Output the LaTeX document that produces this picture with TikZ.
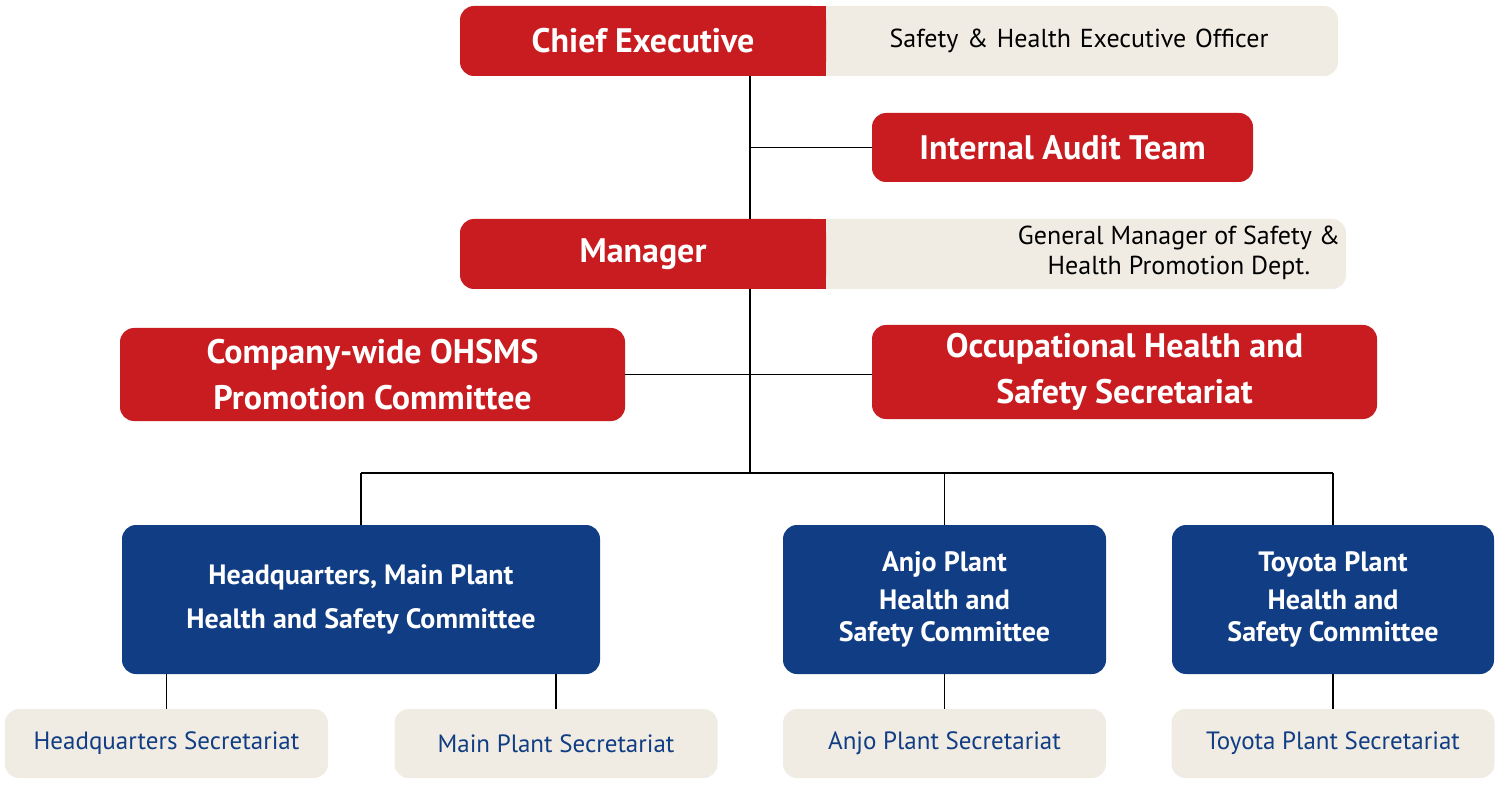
\documentclass[tikz,border=0pt]{standalone}
\usepackage{fontspec}
\setmainfont{PT Sans}
\definecolor{boxRed}{RGB}{200,28,32}
\definecolor{boxBlue}{RGB}{16,61,131}
\definecolor{boxBeige}{RGB}{240,236,227}
\tikzset{
  redbox/.style={fill=boxRed,text=white,rounded corners=14pt,inner sep=0pt,align=center,font=\fontsize{34}{38}\selectfont\bfseries},
  bluebox/.style={fill=boxBlue,text=white,rounded corners=14pt,inner sep=0pt,align=center,font=\fontsize{28}{44}\selectfont\bfseries},
  rolebox/.style={fill=boxBeige,rounded corners=14pt,inner sep=0pt,align=center,font=\fontsize{26}{30}\selectfont},
  secbox/.style={fill=boxBeige,text=boxBlue,rounded corners=14pt,inner sep=0pt,align=center,minimum width=323pt,minimum height=69pt,font=\fontsize{25}{30}\selectfont},
  link/.style={draw=black,line width=1.2pt}
}
\begin{document}
\begin{tikzpicture}[x=1pt,y=-1pt]
\path[use as bounding box] (0,0) rectangle (1500,786);
% top block
\node[rolebox,minimum width=538pt,minimum height=70pt,text width=500pt] (chiefrole) at (1069,41) {\hspace*{20pt}Safety \& Health Executive Officer};
\node[redbox,minimum width=366pt,minimum height=70pt] (chief) at (643,41) {Chief Executive};
\fill[boxRed] ([xshift=-16pt]chief.north east) rectangle (chief.south east);
\node[redbox,minimum width=381pt,minimum height=69pt] (audit) at (1062.5,147.5) {Internal Audit Team};
\node[rolebox,minimum width=538pt,minimum height=70pt] (mgrrole) at (1069,254) {\hspace*{220pt}\begin{tabular}{c}General Manager of Safety \&\\Health Promotion Dept.\end{tabular}};
\node[redbox,minimum width=366pt,minimum height=70pt] (mgr) at (643,254) {Manager};
\fill[boxRed] ([xshift=-16pt]mgr.north east) rectangle (mgr.south east);
\node[redbox,minimum width=505pt,minimum height=93pt,font=\fontsize{34}{46}\selectfont\bfseries] (ohsms) at (372.5,374.5) {Company-wide OHSMS\\Promotion Committee};
\node[redbox,minimum width=505pt,minimum height=94pt,font=\fontsize{34}{46}\selectfont\bfseries] (ohs) at (1124.5,372) {Occupational Health and\\Safety Secretariat};
% committees
\node[bluebox,minimum width=478pt,minimum height=149pt] (hq) at (361,599.5) {Headquarters, Main Plant\\Health and Safety Committee};
\node[bluebox,minimum width=323pt,minimum height=149pt,font=\fontsize{28}{42}\selectfont\bfseries] (anjo) at (944.5,599.5) {Anjo Plant\\[-4pt]Health and\\[-10pt]Safety Committee};
\node[bluebox,minimum width=322pt,minimum height=149pt,font=\fontsize{28}{42}\selectfont\bfseries] (toyota) at (1333,599.5) {Toyota Plant\\[-4pt]Health and\\[-10pt]Safety Committee};
% secretariats
\node[secbox] (hqsec) at (166.5,743.5) {Headquarters Secretariat};
\node[secbox] (mainsec) at (556,743.5) {Main Plant Secretariat};
\node[secbox] (anjosec) at (944.5,743.5) {Anjo Plant Secretariat};
\node[secbox] (toyotasec) at (1333,743.5) {Toyota Plant Secretariat};
% connectors
\coordinate (bus) at (750,473);
\draw[link] (chief.south -| bus) -- (mgr.north -| bus);
\draw[link] (audit.west -| bus) -- (audit.west);
\draw[link] (mgr.south -| bus) -- (bus);
\draw[link] (ohsms.east) -- (ohsms.east -| ohs.west);
\draw[link] (bus -| hq) -- (bus -| toyota);
\draw[link] (bus -| hq) -- (hq.north);
\draw[link] (bus -| anjo) -- (anjo.north);
\draw[link] (bus -| toyota) -- (toyota.north);
\draw[link] (hq.south -| hqsec) -- (hqsec.north);
\draw[link] (hq.south -| mainsec) -- (mainsec.north);
\draw[link] (anjo.south) -- (anjosec.north);
\draw[link] (toyota.south) -- (toyotasec.north);
\end{tikzpicture}
\end{document}
